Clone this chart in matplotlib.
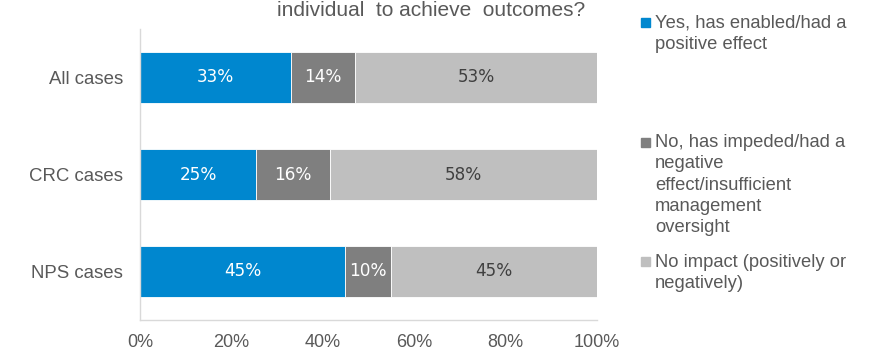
import matplotlib
matplotlib.use("Agg")
import matplotlib.pyplot as plt
from matplotlib.patches import Rectangle
import numpy as np

categories = ["All cases", "CRC cases", "NPS cases"]
yes_vals = [33.0, 25.4, 44.9]
no_vals = [14.0, 16.2, 10.0]
none_vals = [53.0, 58.4, 45.1]
series_names = ["Yes, has enabled/had a\npositive effect",
                "No, has impeded/had a\nnegative\neffect/insufficient\nmanagement\noversight",
                "No impact (positively or\nnegatively)"]
colors = ["#0087CF", "#7F7F7F", "#BFBFBF"]
label_colors = ["white", "white", "#404040"]
xticks = [0, 20, 40, 60, 80, 100]

W, H = 877, 350
fig = plt.figure(figsize=(W / 100, H / 100), dpi=100)
ax = fig.add_axes([140 / W, 1 - 320 / H, (597 - 140) / W, (320 - 29) / H])

ypos = np.arange(len(categories))
left = np.zeros(len(categories))
for vals, c, lc in zip([yes_vals, no_vals, none_vals], colors, label_colors):
    vals = np.array(vals)
    ax.barh(ypos, vals, left=left, height=0.53, color=c,
            edgecolor="white", linewidth=0.6)
    for y, l, v in zip(ypos, left, vals):
        ax.text(l + v / 2, y, f"{round(v):d}%", ha="center", va="center",
                color=lc, fontsize=12.2, family="DejaVu Sans")
    left = left + vals

ax.set_xlim(0, 100)
ax.set_ylim(len(categories) - 0.5, -0.5)
ax.set_yticks(ypos)
ax.set_yticklabels(categories, fontsize=13.4, color="#595959", family="Liberation Sans")
ax.set_xticks(xticks)
ax.set_xticklabels([f"{t}%" for t in xticks], fontsize=13, color="#595959",
                   family="Liberation Sans")
ax.tick_params(axis="both", length=0)
ax.tick_params(axis="x", pad=10)
ax.tick_params(axis="y", pad=12)
for s in ["top", "right"]:
    ax.spines[s].set_visible(False)
for s in ["left", "bottom"]:
    ax.spines[s].set_color("#D9D9D9")
    ax.spines[s].set_linewidth(1)

fig.text(431 / W, 1 - 16 / H, "individual  to achieve  outcomes?", ha="center",
         va="baseline", fontsize=15, color="#595959", family="Liberation Sans")

# legend drawn manually
marker_tops = [18, 138, 257]
first_baselines = [28, 147, 267]
line_step = 21.3
for name, c, mt, fb in zip(series_names, colors, marker_tops, first_baselines):
    fig.patches.append(Rectangle((641 / W, 1 - (mt + 9) / H), 9 / W, 9 / H,
                                 transform=fig.transFigure, color=c, figure=fig))
    for i, line in enumerate(name.split("\n")):
        fig.text(655 / W, 1 - (fb + i * line_step) / H, line, ha="left",
                 va="baseline", fontsize=13.2, color="#595959",
                 family="Liberation Sans")

fig.savefig("out.png", dpi=100)
